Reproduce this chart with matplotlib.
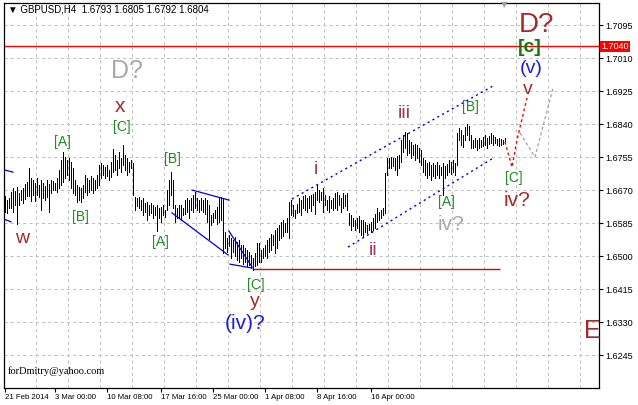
import matplotlib
matplotlib.use('Agg')
import matplotlib.pyplot as plt
from matplotlib.transforms import blended_transform_factory

# ---------------- data (GBPUSD H4 bars: high / low) ----------------
highs = [
    1.6655, 1.6644, 1.6649, 1.6665, 1.6675, 1.6667, 1.6678, 1.6662, 1.6670, 1.6675,
    1.6685, 1.6691, 1.6727, 1.6701, 1.6696, 1.6688, 1.6701, 1.6683, 1.6696, 1.6688,
    1.6680, 1.6696, 1.6685, 1.6696, 1.6693, 1.6688, 1.6701, 1.6722, 1.6747, 1.6768,
    1.6755, 1.6747, 1.6752, 1.6742, 1.6727, 1.6696, 1.6683, 1.6678, 1.6675, 1.6683,
    1.6709, 1.6701, 1.6696, 1.6706, 1.6701, 1.6696, 1.6709, 1.6734, 1.6740, 1.6734,
    1.6729, 1.6734, 1.6722, 1.6742, 1.6776, 1.6760, 1.6747, 1.6768, 1.6752, 1.6786,
    1.6760, 1.6752, 1.6742, 1.6747, 1.6740, 1.6652, 1.6649, 1.6652, 1.6644, 1.6649,
    1.6637, 1.6639, 1.6631, 1.6637, 1.6631, 1.6626, 1.6631, 1.6624, 1.6626, 1.6631,
    1.6619, 1.6670, 1.6696, 1.6716, 1.6696, 1.6631, 1.6624, 1.6631, 1.6631, 1.6624,
    1.6644, 1.6649, 1.6644, 1.6649, 1.6657, 1.6665, 1.6649, 1.6644, 1.6649, 1.6644,
    1.6649, 1.6644, 1.6631, 1.6606, 1.6611, 1.6619, 1.6626, 1.6649, 1.6652, 1.6649,
    1.6562, 1.6546, 1.6554, 1.6546, 1.6541, 1.6549, 1.6536, 1.6541, 1.6528, 1.6528,
    1.6521, 1.6515, 1.6510, 1.6503, 1.6495, 1.6508, 1.6533, 1.6533, 1.6515, 1.6521,
    1.6528, 1.6541, 1.6546, 1.6557, 1.6554, 1.6567, 1.6572, 1.6580, 1.6588, 1.6593,
    1.6585, 1.6598, 1.6639, 1.6644, 1.6631, 1.6619, 1.6634, 1.6649, 1.6644, 1.6655,
    1.6657, 1.6649, 1.6655, 1.6657, 1.6660, 1.6665, 1.6685, 1.6670, 1.6665, 1.6675,
    1.6657, 1.6644, 1.6655, 1.6644, 1.6649, 1.6662, 1.6665, 1.6657, 1.6649, 1.6662,
    1.6657, 1.6662, 1.6611, 1.6606, 1.6598, 1.6593, 1.6598, 1.6603, 1.6593, 1.6593,
    1.6588, 1.6580, 1.6582, 1.6588, 1.6598, 1.6608, 1.6624, 1.6613, 1.6619, 1.6624,
    1.6714, 1.6752, 1.6752, 1.6755, 1.6752, 1.6752, 1.6758, 1.6760, 1.6799, 1.6812,
    1.6819, 1.6817, 1.6799, 1.6794, 1.6786, 1.6789, 1.6786, 1.6778, 1.6773, 1.6752,
    1.6747, 1.6740, 1.6742, 1.6734, 1.6740, 1.6734, 1.6742, 1.6734, 1.6729, 1.6740,
    1.6732, 1.6737, 1.6747, 1.6742, 1.6747, 1.6740, 1.6817, 1.6830, 1.6825, 1.6812,
    1.6832, 1.6840, 1.6835, 1.6812, 1.6799, 1.6804, 1.6799, 1.6804, 1.6799, 1.6807,
    1.6812, 1.6804, 1.6809, 1.6817, 1.6812, 1.6807, 1.6801, 1.6804, 1.6801, 1.6799,
    1.6805,
]
lows = [
    1.6613, 1.6611, 1.6624, 1.6624, 1.6613, 1.6631, 1.6582, 1.6631, 1.6644, 1.6637,
    1.6647, 1.6655, 1.6655, 1.6642, 1.6657, 1.6642, 1.6657, 1.6652, 1.6619, 1.6649,
    1.6644, 1.6652, 1.6613, 1.6662, 1.6670, 1.6670, 1.6665, 1.6675, 1.6683, 1.6691,
    1.6701, 1.6709, 1.6696, 1.6675, 1.6662, 1.6657, 1.6639, 1.6644, 1.6639, 1.6649,
    1.6665, 1.6657, 1.6665, 1.6670, 1.6662, 1.6670, 1.6675, 1.6683, 1.6701, 1.6709,
    1.6701, 1.6706, 1.6696, 1.6704, 1.6716, 1.6722, 1.6709, 1.6727, 1.6716, 1.6734,
    1.6722, 1.6709, 1.6716, 1.6727, 1.6657, 1.6619, 1.6629, 1.6624, 1.6619, 1.6606,
    1.6613, 1.6593, 1.6606, 1.6611, 1.6598, 1.6606, 1.6564, 1.6598, 1.6588, 1.6606,
    1.6600, 1.6619, 1.6631, 1.6657, 1.6624, 1.6588, 1.6598, 1.6600, 1.6593, 1.6606,
    1.6608, 1.6613, 1.6598, 1.6619, 1.6613, 1.6624, 1.6619, 1.6613, 1.6619, 1.6613,
    1.6608, 1.6588, 1.6544, 1.6580, 1.6588, 1.6598, 1.6582, 1.6588, 1.6593, 1.6508,
    1.6521, 1.6510, 1.6526, 1.6495, 1.6510, 1.6500, 1.6490, 1.6485, 1.6495, 1.6479,
    1.6485, 1.6474, 1.6477, 1.6469, 1.6464, 1.6474, 1.6477, 1.6485, 1.6485, 1.6495,
    1.6500, 1.6495, 1.6510, 1.6515, 1.6528, 1.6508, 1.6521, 1.6541, 1.6546, 1.6552,
    1.6562, 1.6562, 1.6546, 1.6606, 1.6603, 1.6598, 1.6611, 1.6613, 1.6606, 1.6624,
    1.6619, 1.6613, 1.6624, 1.6616, 1.6631, 1.6608, 1.6644, 1.6639, 1.6644, 1.6613,
    1.6631, 1.6619, 1.6613, 1.6624, 1.6619, 1.6624, 1.6619, 1.6631, 1.6613, 1.6624,
    1.6629, 1.6619, 1.6580, 1.6567, 1.6577, 1.6567, 1.6572, 1.6562, 1.6554, 1.6549,
    1.6562, 1.6559, 1.6567, 1.6562, 1.6567, 1.6572, 1.6588, 1.6593, 1.6598, 1.6606,
    1.6611, 1.6709, 1.6727, 1.6727, 1.6732, 1.6722, 1.6709, 1.6727, 1.6742, 1.6768,
    1.6778, 1.6760, 1.6765, 1.6752, 1.6760, 1.6747, 1.6752, 1.6742, 1.6734, 1.6716,
    1.6709, 1.6701, 1.6709, 1.6696, 1.6706, 1.6701, 1.6709, 1.6701, 1.6709, 1.6657,
    1.6701, 1.6709, 1.6716, 1.6711, 1.6716, 1.6709, 1.6734, 1.6799, 1.6786, 1.6781,
    1.6799, 1.6812, 1.6799, 1.6778, 1.6778, 1.6781, 1.6773, 1.6778, 1.6781, 1.6783,
    1.6786, 1.6778, 1.6789, 1.6791, 1.6786, 1.6791, 1.6786, 1.6783, 1.6786, 1.6789,
    1.6792,
]

ytick_values = [1.7095, 1.7010, 1.6925, 1.6840, 1.6755, 1.6670, 1.6585,
                1.6500, 1.6415, 1.6330, 1.6245]
ytick_labels = ['%.4f' % v for v in ytick_values]
date_positions = [0, 25, 51, 78, 104, 130, 156, 183]
date_labels = ['21 Feb 2014', '3 Mar 00:00', '10 Mar 08:00', '17 Mar 16:00',
               '25 Mar 00:00', '1 Apr 08:00', '8 Apr 16:00', '16 Apr 00:00']
title_text = '\u25BC GBPUSD,H4  1.6793 1.6805 1.6792 1.6804'
level_price = 1.7040
support_price = 1.6467

# trend lines (bar index, price)
wedge_lines = [
    ([93.5, 112.0], [1.6670, 1.6644]),
    ([83.5, 111.5], [1.6611, 1.6503]),
    ([112.0, 123.5], [1.6564, 1.6472]),
    ([112.5, 123.5], [1.6479, 1.6469]),
    ([-0.5, 4.0], [1.6722, 1.6716]),
    ([-0.5, 3.0], [1.6595, 1.6588]),
]
channel_upper = ([143.5, 244.0], [1.6647, 1.6938])
channel_lower = ([171.5, 244.0], [1.6523, 1.6752])
support_span = [124.0, 247.5]
red_path = ([250.0, 253.5, 256.0, 261.0], [1.6794, 1.6729, 1.6799, 1.6907])
gray_path = ([257.5, 265.0, 274.0], [1.6817, 1.6755, 1.6933])

GREEN = '#1e8c1e'
BROWN = '#a52a2a'
MAUVE = '#a0385a'
BLUE = '#1c1ce6'
GRAY = '#a9a9a9'
labels = [
    ('D?', 61.0, 1.6977, GRAY, 18),
    ('x', 57.5, 1.6884, BROWN, 15),
    ('[C]', 58.5, 1.6832, GREEN, 10),
    ('[A]', 28.5, 1.6794, GREEN, 10),
    ('[B]', 37.5, 1.6600, GREEN, 10),
    ('w', 8.5, 1.6544, BROWN, 14),
    ('[B]', 83.5, 1.6750, GREEN, 10),
    ('[A]', 77.5, 1.6536, GREEN, 10),
    ('[C]', 125.5, 1.6425, GREEN, 10),
    ('y', 125.0, 1.6384, BROWN, 14),
    ('(iv)?', 120.0, 1.6327, BLUE, 15),
    ('i', 155.5, 1.6722, MAUVE, 14),
    ('ii', 184.0, 1.6515, MAUVE, 14),
    ('iii', 199.5, 1.6868, MAUVE, 14),
    ('[B]', 232.5, 1.6884, GREEN, 10),
    ('[A]', 220.5, 1.6639, GREEN, 10),
    ('iv?', 223.0, 1.6582, GRAY, 15),
    ('[C]', 254.5, 1.6701, GREEN, 10),
    ('iv?', 256.0, 1.6644, BROWN, 15),
    ('v', 261.5, 1.6928, BROWN, 14),
    ('(v)', 263.0, 1.6982, BLUE, 14),
    ('D?', 265.5, 1.7095, BROWN, 20),
    ('E', 293.5, 1.6307, BROWN, 18),
]

# ---------------- drawing ----------------
fig = plt.figure(figsize=(6.38, 4.05), dpi=100)
fig.patch.set_facecolor('white')
ax = fig.add_axes([4 / 638, 17 / 405, 595 / 638, 385 / 405])
ax.set_xlim(-0.5, 297.0)
ax.set_ylim(1.61600, 1.71517)

# grid
for k in range(1, 19):
    ax.axvline(-0.5 + 16 * k, color='#c0c0c0', lw=0.75, ls=(0, (3, 3)), zorder=0)
for v in ytick_values:
    ax.axhline(v, color='#c0c0c0', lw=0.75, ls=(0, (3, 3)), zorder=0)

# bars
xs = list(range(len(highs)))
ax.vlines(xs, lows, highs, color='black', lw=0.6, antialiased=False, zorder=3)

# horizontal levels
ax.axhline(level_price, color='#ff0000', lw=1.0, zorder=2)
ax.hlines(support_price, support_span[0], support_span[1], color='#dd0000', lw=1.0, zorder=2)

# wedge lines
for xx, yy in wedge_lines:
    ax.plot(xx, yy, color='#0000ee', lw=0.9, zorder=4)
# channel
for xx, yy in (channel_upper, channel_lower):
    ax.plot(xx, yy, color='#0000ee', lw=1.0, ls=(0, (1.5, 2.5)), zorder=4)
# projections
ax.plot(*red_path, color='#ff0000', lw=1.0, ls=(0, (2, 2)), zorder=4)
ax.plot(*gray_path, color='#a0a0a0', lw=0.9, ls=(0, (2.5, 2)), zorder=4)

# wave labels
for txt, x, y, c, s in labels:
    ax.text(x, y, txt, color=c, fontsize=s, ha='center', va='center',
            family=['Liberation Sans', 'DejaVu Sans'], zorder=5)
ax.text(262.5, 1.7038, '[c]', color='#107a10', fontsize=14, ha='center', va='center',
        family=['Liberation Sans', 'DejaVu Sans'], fontweight='bold', zorder=5)

# axes styling
for sp in ax.spines.values():
    sp.set_color('black')
    sp.set_linewidth(0.9)
ax.yaxis.tick_right()
ax.set_yticks(ytick_values)
ax.set_yticklabels(ytick_labels)
ax.set_xticks(date_positions)
ax.set_xticklabels(date_labels, ha='left')
ax.tick_params(axis='y', direction='out', length=3, width=0.8, pad=1.5,
               labelsize=6.5, colors='black')
ax.tick_params(axis='x', direction='out', length=3, width=0.8, pad=1.5,
               labelsize=5.6, colors='black')
for lab in ax.get_xticklabels() + ax.get_yticklabels():
    lab.set_family(['Liberation Sans'])

# price label on the right axis
tr = blended_transform_factory(ax.transAxes, ax.transData)
ax.text(1.004, level_price, '%.4f' % level_price, transform=tr, color='white',
        fontsize=6.5, ha='left', va='center', family=['Liberation Sans'],
        bbox=dict(boxstyle='square,pad=0.15', fc='#ff0000', ec='none'), zorder=6,
        clip_on=False)

# title and watermark
ax.text(0.007, 0.982, title_text, transform=ax.transAxes, fontsize=7,
        ha='left', va='center', family=['Liberation Sans', 'DejaVu Sans'])
ax.text(0.007, 0.044, 'forDmitry@yahoo.com', transform=ax.transAxes, fontsize=7.5,
        ha='left', va='center', family=['Liberation Serif'])
ax.text(249.5, 1.7147, '\u25BC', color='#a0a0a0', fontsize=6, ha='center',
        va='center', family=['DejaVu Sans'])

fig.savefig('out.png', dpi=100, facecolor='white')
